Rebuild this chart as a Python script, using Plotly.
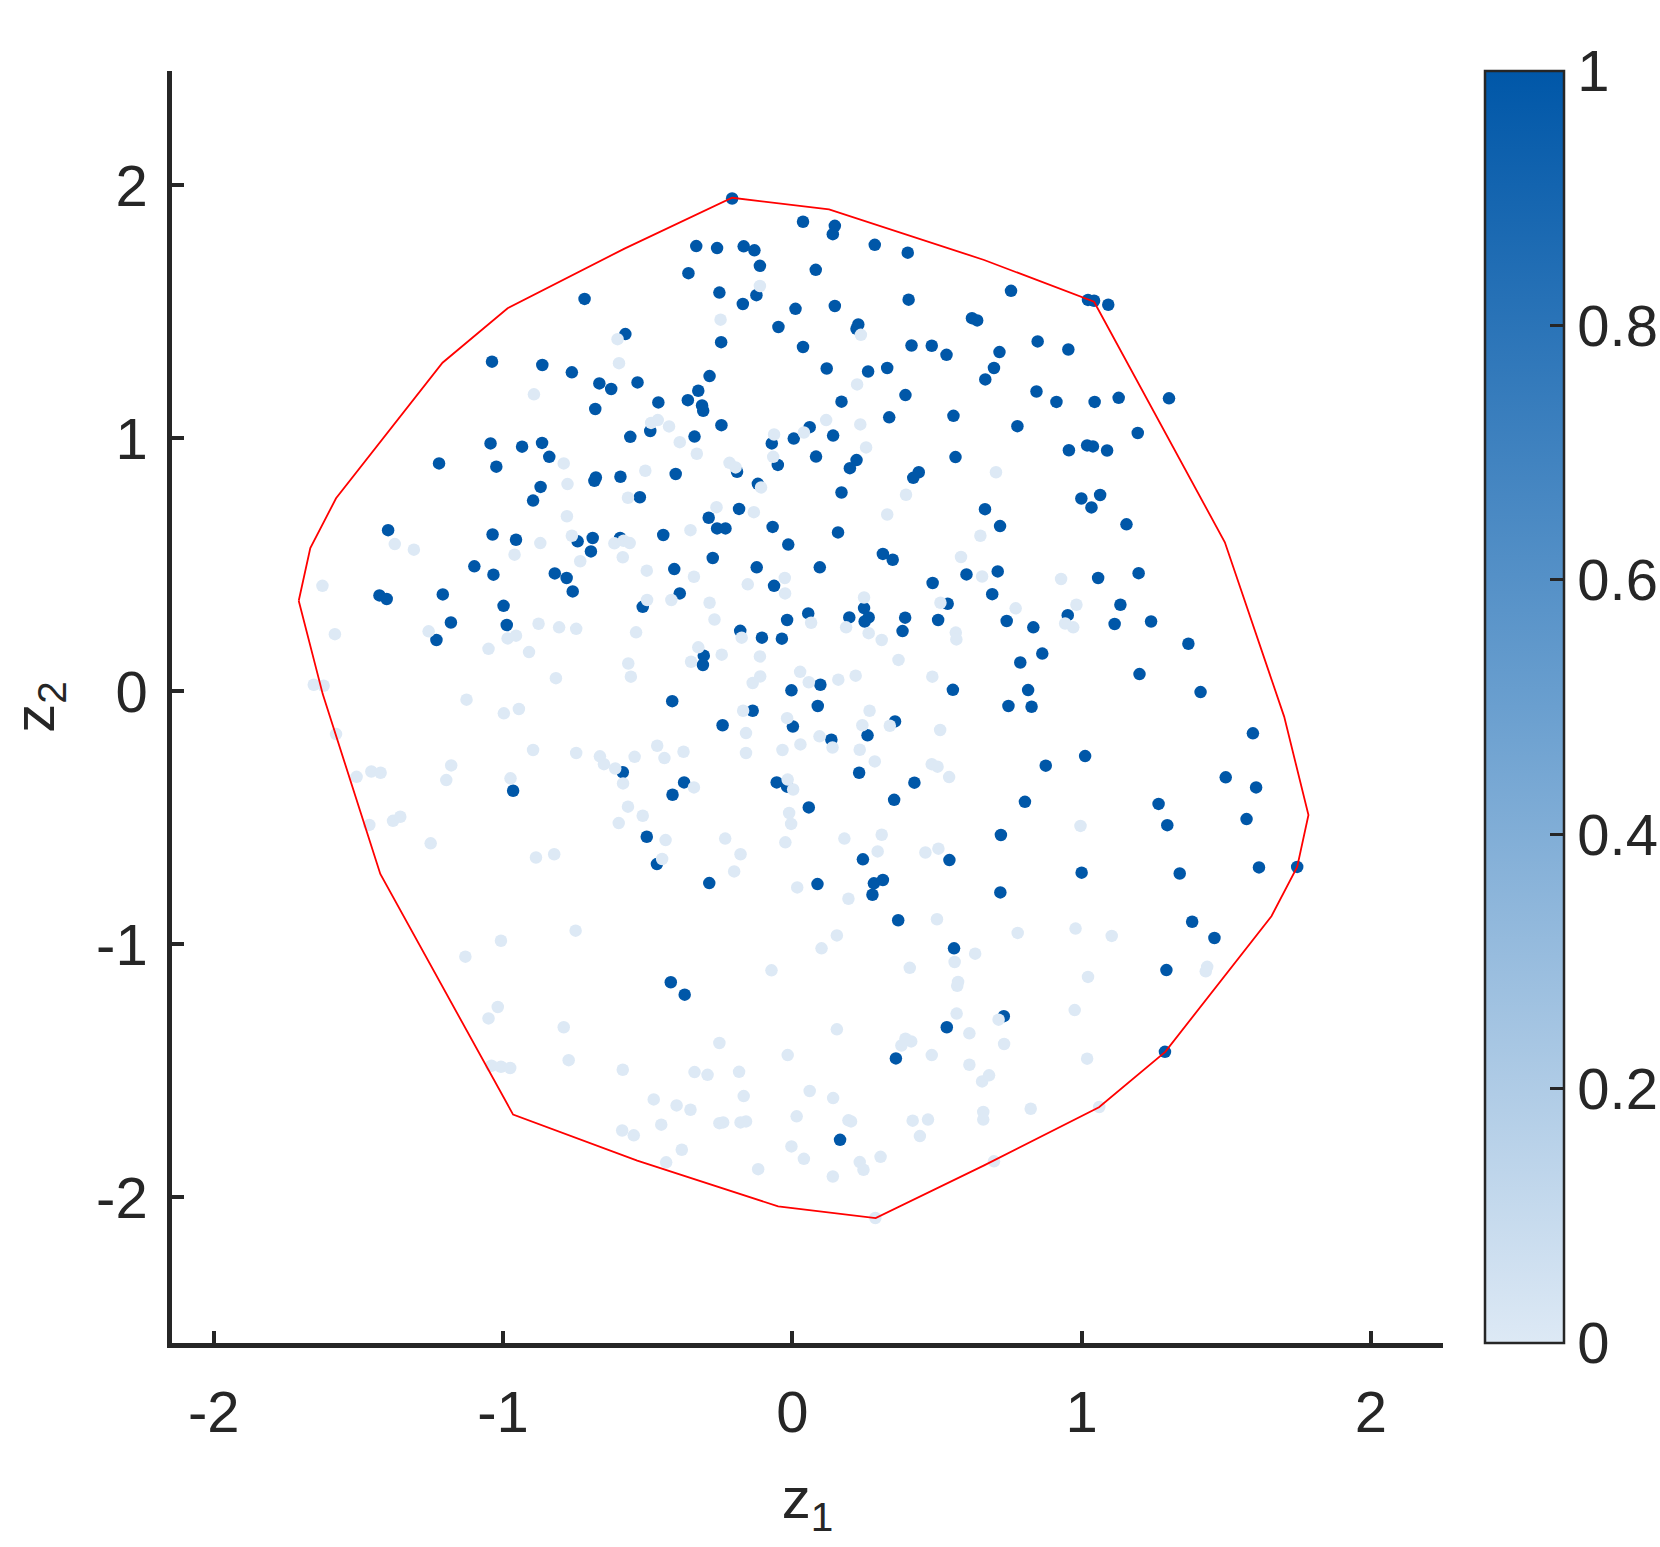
import plotly.graph_objects as go

# ---------------- data ----------------
z1_dark = [
    -0.718, -0.577, -1.038, -0.864, -0.762, -0.667, -0.626, -0.535, -0.681, -0.560,
    -1.043, -0.934, -0.865, -0.840, -1.221, -1.023, -0.679, -0.684, -0.594, -0.870,
    -0.896, -0.527, -1.397, -1.036,
    -0.208, 0.037, 0.147, 0.140, 0.285, 0.399, -0.332, -0.260, -0.168, -0.131,
    -0.112, -0.359, 0.081, -0.124, -0.252, -0.171, 0.011, 0.147, 0.402, 0.621,
    0.639, -0.048, 0.228, 0.222, -0.246, 0.037, 0.412, 0.482, 0.533, 0.119,
    0.262, 0.328, 0.667, -0.286, -0.325, -0.361, -0.463, -0.312, -0.308, 0.170,
    0.391, 0.335, 0.557, -0.491, -0.245, -0.338, 0.060, 0.141, 0.005, -0.071,
    0.082, -0.050, 0.222, 0.199, 0.564, -0.191, -0.403, 0.437, 0.418, -0.119,
    0.170, -0.184, 0.666, -0.289, -0.260, -0.231, -0.446, -0.068, 0.158,
    0.756, 1.022, 1.043, 1.092, 0.848, 0.954, 0.716, 0.697, 0.844, 0.913,
    1.045, 1.128, 1.302, 0.778, 1.194, 0.956, 1.019, 1.039, 1.088, 0.999,
    1.064, 1.034, 0.718, 1.155,
    -0.955, -0.742, -0.690, -0.696, -0.595, -1.099, -1.033, -0.821, -0.780, -0.759,
    -1.427, -1.402, -1.208, -0.998, -1.180, -0.987, -1.230, -0.586, -0.965,
    -0.014, 0.313, 0.347, 0.602, -0.275, -0.408, -0.123, 0.095, -0.063, 0.485,
    -0.389, -0.517, 0.248, 0.264, 0.250, 0.197, 0.055, -0.018, 0.390, 0.381,
    0.537, 0.504, -0.180, -0.105, -0.036, -0.306, -0.309, 0.097, -0.003, 0.555,
    -0.415, 0.088, -0.137, 0.355, 0.002, 0.260, -0.241, 0.135, 0.231, -0.374,
    -0.414, -0.054, -0.018, 0.422, 0.352, 0.057, -0.503, 0.244, 0.543, -0.468,
    -0.287, 0.087, 0.282, 0.313, 0.277,
    0.710, 0.691, 0.741, 0.833, 1.057, 1.197, 0.952, 1.134, 1.114, 1.240,
    1.369, 0.864, 0.788, 1.200, 0.815, 1.411, 0.747, 0.827, 1.592, 1.012,
    0.876, 1.498, 1.603, 0.804, 1.266, 1.570, 1.296, 0.721, 1.000, 1.339,
    1.613, 1.745, 0.719,
    0.366, 0.559, -0.420, -0.372, 0.534, 0.358, 0.165,
    1.382, 1.459, 1.293, 0.731, 1.288,
]
z2_dark = [
    1.551, 1.412, 1.303, 1.290, 1.261, 1.217, 1.195, 1.221, 1.116, 1.006,
    0.980, 0.967, 0.982, 0.927, 0.901, 0.888, 0.845, 0.832, 0.848, 0.808,
    0.754, 0.767, 0.637, 0.620,
    1.948, 1.856, 1.840, 1.807, 1.765, 1.734, 1.760, 1.752, 1.759, 1.743,
    1.682, 1.653, 1.666, 1.566, 1.576, 1.531, 1.512, 1.523, 1.548, 1.475,
    1.466, 1.440, 1.450, 1.433, 1.380, 1.361, 1.367, 1.366, 1.330, 1.276,
    1.264, 1.278, 1.233, 1.246, 1.188, 1.151, 1.142, 1.130, 1.109, 1.145,
    1.171, 1.083, 1.089, 1.029, 1.052, 1.007, 1.044, 1.011, 0.999, 0.980,
    0.928, 0.895, 0.914, 0.882, 0.926, 0.868, 0.859, 0.866, 0.844, 0.820,
    0.786, 0.721, 0.720, 0.686, 0.644, 0.644, 0.618, 0.650, 0.628,
    1.583, 1.547, 1.544, 1.528, 1.383, 1.351, 1.341, 1.278, 1.185, 1.144,
    1.144, 1.160, 1.158, 1.048, 1.021, 0.953, 0.972, 0.968, 0.952, 0.762,
    0.776, 0.727, 0.653, 0.660,
    0.599, 0.593, 0.606, 0.553, 0.606, 0.494, 0.461, 0.466, 0.448, 0.395,
    0.379, 0.365, 0.383, 0.338, 0.272, 0.262, 0.203, -0.320, -0.393,
    0.580, 0.543, 0.520, 0.462, 0.527, 0.483, 0.490, 0.490, 0.417, 0.428,
    0.387, 0.334, 0.329, 0.292, 0.276, 0.292, 0.308, 0.282, 0.291, 0.238,
    0.346, 0.282, 0.239, 0.212, 0.208, 0.141, 0.104, 0.026, 0.004, 0.006,
    -0.039, -0.058, -0.077, -0.119, -0.139, -0.174, -0.134, -0.191, -0.322, -0.360,
    -0.409, -0.360, -0.377, -0.361, -0.429, -0.459, -0.575, -0.664, -0.667, -0.683,
    -0.758, -0.762, -0.759, -0.746, -0.804,
    0.474, 0.384, 0.278, 0.253, 0.448, 0.467, 0.301, 0.342, 0.266, 0.276,
    0.188, 0.149, 0.114, 0.068, 0.005, -0.003, -0.058, -0.061, -0.166, -0.256,
    -0.294, -0.340, -0.380, -0.437, -0.445, -0.505, -0.529, -0.568, -0.717, -0.720,
    -0.696, -0.694, -0.795,
    -0.905, -1.016, -1.150, -1.199, -1.328, -1.451, -1.773,
    -0.911, -0.975, -1.102, -1.284, -1.425,
]

z1_light = [
    -0.604, -0.599, -0.893, -0.790, -0.777, -0.568, -0.779,
    -0.112, -0.248, 0.237, 0.224, -0.488, -0.465, -0.426, -0.389, -0.330, 0.117,
    0.235, 0.040, -0.063, 0.255, -0.066, -0.217, -0.196, -0.508, -0.108, 0.393,
    -0.262, -0.133, 0.328, -0.352, 0.650,
    0.704,
    -1.374, -1.308, -0.871, -0.960, -0.762, -0.733, -0.615, -0.583, -0.562, -0.586,
    -1.624, -0.877, -0.806, -0.747, -1.581, -1.257, -0.984, -0.955, -1.050, -0.910,
    -0.540, -0.567, -0.558, -0.817, -1.654, -1.620, -1.126, -0.997, -0.945, -1.577,
    -0.896, -0.747, -0.665, -0.651, -0.612, -0.585, -0.545, -1.179, -1.196, -1.506,
    -1.455, -1.423, -0.974, -0.568, -0.600, -1.462, -1.380, -1.355, -1.250, -0.886,
    -0.823,
    0.583, 0.656, -0.503, -0.340, -0.154, -0.026, -0.025, -0.502, -0.418, -0.286,
    -0.269, 0.248, 0.186, 0.264, 0.309, 0.065, 0.512, 0.565, 0.567, -0.175,
    -0.325, -0.350, -0.244, -0.112, 0.367, 0.027, 0.057, 0.159, 0.219, -0.111,
    -0.137, 0.484, -0.170, 0.267, 0.337, -0.018, 0.242, 0.511, -0.160, 0.094,
    0.139, 0.028, -0.034, 0.233, -0.160, -0.467, -0.442, -0.376, 0.285, 0.482,
    0.502, 0.542, -0.340, -0.016, 0.003, -0.517, -0.011, -0.004, -0.438, -0.232,
    -0.024, 0.180, 0.309, 0.295, 0.460, 0.505, -0.179, -0.450, -0.201, 0.017,
    0.772, 0.929, 0.982, 0.943, 0.971, 0.996,
    -0.749, -1.007, -1.130, -1.018, -1.050, -0.790, -0.773, -1.040, -1.007, -0.975,
    -0.586, -0.588, -0.548,
    0.194, 0.500, 0.154, 0.101, 0.632, 0.561, 0.406, -0.072, 0.573, 0.570,
    0.568, 0.612, 0.154, -0.252, 0.391, 0.411, 0.377, 0.482, -0.016, 0.612,
    0.656, -0.338, -0.293, -0.184, 0.060, 0.141, -0.168, -0.479, -0.400, -0.352,
    -0.453, -0.252, -0.239, -0.179, -0.160, 0.015, 0.194, 0.203, 0.416, 0.469,
    0.660, 0.660, 0.441, -0.382, -0.003, 0.040, 0.305, 0.233, 0.246, -0.436,
    -0.118, 0.140, 0.287,
    0.779, 0.979, 1.104, 1.434, 1.429, 1.022, 0.713, 0.976, 0.732, 1.019,
    0.680, 0.824, 1.061, 0.697,
]
z2_light = [
    1.392, 1.297, 1.174, 0.901, 0.819, 0.765, 0.692,
    1.602, 1.469, 1.409, 1.213, 1.061, 1.072, 1.047, 0.985, 0.939, 1.072,
    1.055, 1.023, 1.015, 0.964, 0.927, 0.903, 0.885, 0.872, 0.806, 0.777,
    0.728, 0.708, 0.699, 0.637, 0.615,
    0.866,
    0.582, 0.560, 0.586, 0.540, 0.615, 0.514, 0.585, 0.595, 0.586, 0.530,
    0.417, 0.267, 0.253, 0.247, 0.226, 0.237, 0.209, 0.220, 0.168, 0.155,
    0.233, 0.110, 0.058, 0.052, 0.026, 0.022, -0.033, -0.087, -0.070, -0.169,
    -0.232, -0.244, -0.257, -0.288, -0.305, -0.364, -0.259, -0.293, -0.351, -0.338,
    -0.317, -0.322, -0.344, -0.456, -0.521, -0.528, -0.512, -0.496, -0.601, -0.657,
    -0.644,
    0.531, 0.454, 0.477, 0.453, 0.423, 0.448, 0.387, 0.361, 0.361, 0.350,
    0.284, 0.371, 0.253, 0.230, 0.203, 0.271, 0.350, 0.232, 0.205, 0.212,
    0.174, 0.117, 0.145, 0.138, 0.124, 0.077, 0.036, 0.046, 0.062, 0.059,
    0.033, 0.058, -0.077, -0.077, -0.136, -0.106, -0.134, -0.153, -0.165, -0.178,
    -0.222, -0.210, -0.232, -0.231, -0.244, -0.215, -0.264, -0.239, -0.277, -0.288,
    -0.298, -0.339, -0.380, -0.349, -0.388, -0.492, -0.481, -0.524, -0.588, -0.582,
    -0.597, -0.582, -0.567, -0.633, -0.637, -0.622, -0.644, -0.663, -0.712, -0.775,
    0.328, 0.444, 0.342, 0.268, 0.253, -0.532,
    -0.946, -0.986, -1.049, -1.248, -1.293, -1.328, -1.458, -1.480, -1.484, -1.489,
    -1.496, -1.736, -1.755,
    -0.820, -0.901, -0.965, -1.016, -1.037, -1.070, -1.093, -1.103, -1.149, -1.164,
    -1.274, -1.352, -1.336, -1.390, -1.373, -1.384, -1.400, -1.438, -1.438, -1.476,
    -1.542, -1.505, -1.516, -1.504, -1.580, -1.608, -1.600, -1.613, -1.637, -1.654,
    -1.713, -1.707, -1.704, -1.704, -1.700, -1.680, -1.696, -1.700, -1.697, -1.693,
    -1.663, -1.693, -1.758, -1.812, -1.799, -1.848, -1.840, -1.861, -1.891, -1.862,
    -1.889, -1.918, -2.082,
    -0.955, -0.938, -0.967, -1.089, -1.107, -1.129, -1.298, -1.260, -1.394, -1.452,
    -1.518, -1.650, -1.643, -1.858,
]

# boundary polygon vertices
hull_z1 = [-1.706, -1.666, -1.577, -1.209, -0.984, -0.580, -0.208, 0.127, 0.663, 1.043,
           1.495, 1.700, 1.784, 1.745, 1.656, 1.289, 1.060, 0.663, 0.288, -0.049,
           -0.536, -0.965, -1.424, -1.623]
hull_z2 = [0.358, 0.566, 0.763, 1.299, 1.514, 1.750, 1.951, 1.905, 1.705, 1.540,
           0.589, -0.100, -0.489, -0.694, -0.889, -1.425, -1.644, -1.874, -2.082, -2.036,
           -1.855, -1.673, -0.722, -0.011]

x_ticks = [-2, -1, 0, 1, 2]
x_ticktext = ["-2", "-1", "0", "1", "2"]
y_ticks = [-2, -1, 0, 1, 2]
y_ticktext = ["-2", "-1", "0", "1", "2"]
cb_ticks = [0, 0.2, 0.4, 0.6, 0.8, 1]
cb_ticktext = ["0", "0.2", "0.4", "0.6", "0.8", "1"]

# ---------------- figure ----------------
FONT = "Liberation Sans, Arial, Helvetica, sans-serif"
INK = "#262626"

pts_x = z1_dark + z1_light
pts_y = z2_dark + z2_light
pts_c = [1] * len(z1_dark) + [0] * len(z1_light)

fig = go.Figure()
fig.add_trace(go.Scatter(
    x=pts_x, y=pts_y, mode="markers",
    marker=dict(
        size=12.5, color=pts_c, cmin=0, cmax=1,
        colorscale=[[0, "#dde9f5"], [0.5, "#6a9fcf"], [1, "#0057a8"]],
        line=dict(width=0),
        showscale=True,
        colorbar=dict(
            x=1.033, xanchor="left", y=0.5, yanchor="middle",
            len=1, lenmode="fraction", thickness=79, thicknessmode="pixels",
            outlinewidth=2.5, outlinecolor=INK,
            tickmode="array", tickvals=cb_ticks, ticktext=cb_ticktext,
            tickprefix="\u2009",
            ticks="inside", ticklen=15, tickwidth=3, tickcolor=INK,
            tickfont=dict(family=FONT, size=58, color=INK),
            xpad=0, ypad=0,
        ),
    ),
    showlegend=False, hoverinfo="skip",
))
fig.add_trace(go.Scatter(
    x=hull_z1 + hull_z1[:1], y=hull_z2 + hull_z2[:1], mode="lines",
    line=dict(color="#ff0000", width=1.8),
    showlegend=False, hoverinfo="skip",
))

axis_common = dict(
    showgrid=False, zeroline=False, showline=True, linecolor=INK, linewidth=4.5,
    ticks="inside", ticklen=12, tickwidth=4, tickcolor=INK,
    tickfont=dict(family=FONT, size=58, color=INK), mirror=False,
)
fig.update_layout(
    width=1660, height=1547,
    margin=dict(l=172, r=217, t=71, b=204, autoexpand=False),
    paper_bgcolor="white", plot_bgcolor="white",
    xaxis=dict(range=[-2.144, 2.249], tickmode="array", tickvals=x_ticks, ticktext=x_ticktext,
               ticklabelstandoff=15,
               title=dict(text="z<sub>1</sub>", font=dict(family=FONT, size=58, color=INK), standoff=36),
               **axis_common),
    yaxis=dict(range=[-2.576, 2.452], tickmode="array", tickvals=y_ticks, ticktext=y_ticktext,
               ticklabelstandoff=8,
               title=dict(text="z<sub>2</sub>", font=dict(family=FONT, size=58, color=INK), standoff=24),
               **axis_common),
)

fig.write_html("out.html", config={"displayModeBar": False},
               post_script="document.body.style.margin='0';")
